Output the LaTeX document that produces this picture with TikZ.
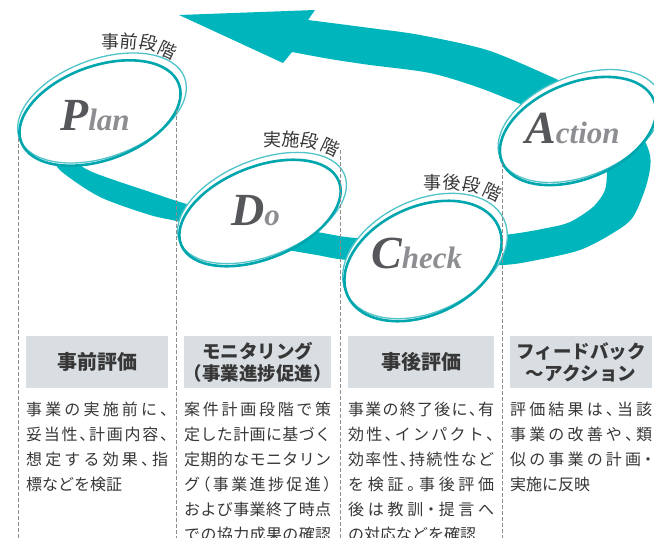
\documentclass[tikz,border=0pt]{standalone}
\usepackage{fontspec}
\setmainfont{Liberation Serif}
\newfontfamily\jp{Noto Sans CJK JP}[CharacterWidth=AlternateHalf]
\newfontfamily\jpn{Noto Sans CJK JP}
\definecolor{bandc}{RGB}{0,181,188}
\definecolor{ellthick}{RGB}{0,166,173}
\definecolor{ellthin}{RGB}{80,196,201}
\definecolor{capgray}{RGB}{85,87,90}
\definecolor{lowgray}{RGB}{140,142,145}
\definecolor{txt}{RGB}{55,55,55}
\definecolor{boxgray}{RGB}{216,222,226}
\definecolor{dashc}{RGB}{140,140,140}
\makeatletter
\def\sprd#1{#1\sprd@}
\def\sprd@#1{\ifx\relax#1\else\hfil#1\expandafter\sprd@\fi}
\makeatother
\newcommand\jl[2]{\makebox[#1pt][s]{\sprd#2\relax}}
\newcommand\capl[1]{{\fontsize{46}{46}\selectfont\color{capgray}#1}}
\newcommand\lowl[1]{{\fontsize{31}{31}\selectfont\color{lowgray}#1}}
\newcommand\dellipse[5]{%
  \fill[white, shift={(#1+2,#2-5)}, rotate=#5] (0,0) ellipse [x radius=#3+4, y radius=#4+2];
  \fill[white, shift={(#1,#2)}, rotate=#5] (0,0) ellipse [x radius=#3, y radius=#4];
  \draw[ellthin, line width=1.3pt, shift={(#1+2,#2-5)}, rotate=#5] (0,0) ellipse [x radius=#3+4, y radius=#4+2];
  \draw[ellthick, line width=2.6pt, shift={(#1,#2)}, rotate=#5] (0,0) ellipse [x radius=#3, y radius=#4];
}
\tikzset{
  dashline/.style={dashc, line width=1pt, dash pattern=on 3.5pt off 2.5pt},
  hdr/.style={fill=boxgray, minimum height=52pt, inner sep=0pt, text=txt, align=center,
    font=\jp\bfseries\fontsize{20}{24}\selectfont},
  hdrtwo/.style={hdr, font=\jp\bfseries\fontsize{18.5}{22}\selectfont},
  body/.style={anchor=north west, inner sep=0pt, text=txt, align=left,
    font=\jp\fontsize{16}{25}\selectfont},
  stg/.style={inner sep=0pt, text=txt, font=\jpn\fontsize{18}{18}\selectfont},
  big/.style={anchor=base west, inner sep=0pt, font=\bfseries\itshape}
}
\begin{document}
\begin{tikzpicture}[x=1pt, y=-1pt]
\useasboundingbox (0,0) rectangle (654,538);

% cycle band with arrow head
\fill[bandc] plot[smooth, tension=0.5] coordinates {(62,152) (90,171) (150,192) (190,205) (250,221) (317,232) (357,238) (430,238) (503,235) (547,228) (570,222) (593,207) (605,190) (607,170)}
  -- (570,130)
  -- plot[smooth, tension=0.5] coordinates {(530,108) (480,88) (430,73) (370,65) (330,59) (292,52)}
  -- (283,63) -- (179,15) -- (315,10)
  -- plot[smooth, tension=0.5] coordinates {(308,20) (370,28) (420,35) (487,50) (545,74) (570,86) (605,105) (635,125) (650,155) (647,183) (633,217) (613,233) (580,250) (537,260) (503,265) (430,266) (347,260) (317,255) (288,250) (230,238) (180,222) (150,215) (100,197) (62,172) (52,158)}
  -- cycle;

% ellipses
\dellipse{100}{113}{84}{47}{20}
\dellipse{260}{213}{85}{46}{22}
\dellipse{423}{261}{83}{54}{25}
\dellipse{578}{131}{82}{48}{22}

% dashed guide lines
\coordinate (d1t) at (18,138);  \coordinate (d1b) at (18,538);
\coordinate (d2t) at (176,110); \coordinate (d2b) at (176,538);
\coordinate (d3t) at (340,150); \coordinate (d3b) at (340,538);
\coordinate (d4t) at (502,163); \coordinate (d4b) at (502,538);
\draw[dashline] (d1t) -- (d1b);
\draw[dashline] (d2t) -- (d2b);
\draw[dashline] (d3t) -- (d3b);
\draw[dashline] (d4t) -- (d4b);

% big letters
\node[big] (plan) at (60,130) {\capl{P}\lowl{lan}};
\node[big] (do) at (231,225) {\capl{D}\lowl{o}};
\node[big] (check) at (371,268) {\capl{C}\lowl{heck}};
\node[big] (action) at (525,143) {\capl{A}\lowl{ction}};

% stage labels
\node[stg, rotate=0]   (s1a) at (110,42) {事};
\node[stg, rotate=-5]  (s1b) at (129,41) {前};
\node[stg, rotate=-12] (s1c) at (149,43) {段};
\node[stg, rotate=-25] (s1d) at (168,50) {階};
\node[stg, rotate=0]   (s2a) at (272,140) {実};
\node[stg, rotate=-5]  (s2b) at (291,139) {施};
\node[stg, rotate=-12] (s2c) at (310,141) {段};
\node[stg, rotate=-25] (s2d) at (330,147) {階};
\node[stg, rotate=0]   (s3a) at (432,183) {事};
\node[stg, rotate=-5]  (s3b) at (452,182) {後};
\node[stg, rotate=-12] (s3c) at (472,185) {段};
\node[stg, rotate=-25] (s3d) at (492,192) {階};

% headers
\node[hdr, minimum width=142pt] (h1) at (97,362) {事前評価};
\node[hdrtwo, minimum width=147pt] (h2) at (257.5,362) {モニタリング\\（事業進捗促進）};
\node[hdr, minimum width=146pt] (h3) at (421,362) {事後評価};
\node[hdrtwo, minimum width=142pt] (h4) at (581,362) {フィードバック\\〜アクション};

% body texts
\node[body] (t1) at (26,402) {\jl{142}{事業の実施前に、}\\\jl{142}{妥当性、計画内容、}\\\jl{142}{想定する効果、指}\\標などを検証};
\node[body] (t2) at (184,402) {\jl{147}{案件計画段階で策}\\\jl{147}{定した計画に基づく}\\\jl{147}{定期的なモニタリン}\\\jl{147}{グ（事業進捗促進）}\\\jl{147}{および事業終了時点}\\\jl{147}{での協力成果の確認}};
\node[body] (t3) at (348,402) {\jl{146}{事業の終了後に、有}\\\jl{146}{効性、インパクト、}\\\jl{146}{効率性、持続性など}\\\jl{146}{を検証。事後評価}\\\jl{146}{後は教訓・提言へ}\\の対応などを確認};
\node[body] (t4) at (510,402) {\jl{142}{評価結果は、当該}\\\jl{142}{事業の改善や、類}\\\jl{142}{似の事業の計画・}\\実施に反映};
\end{tikzpicture}
\end{document}
